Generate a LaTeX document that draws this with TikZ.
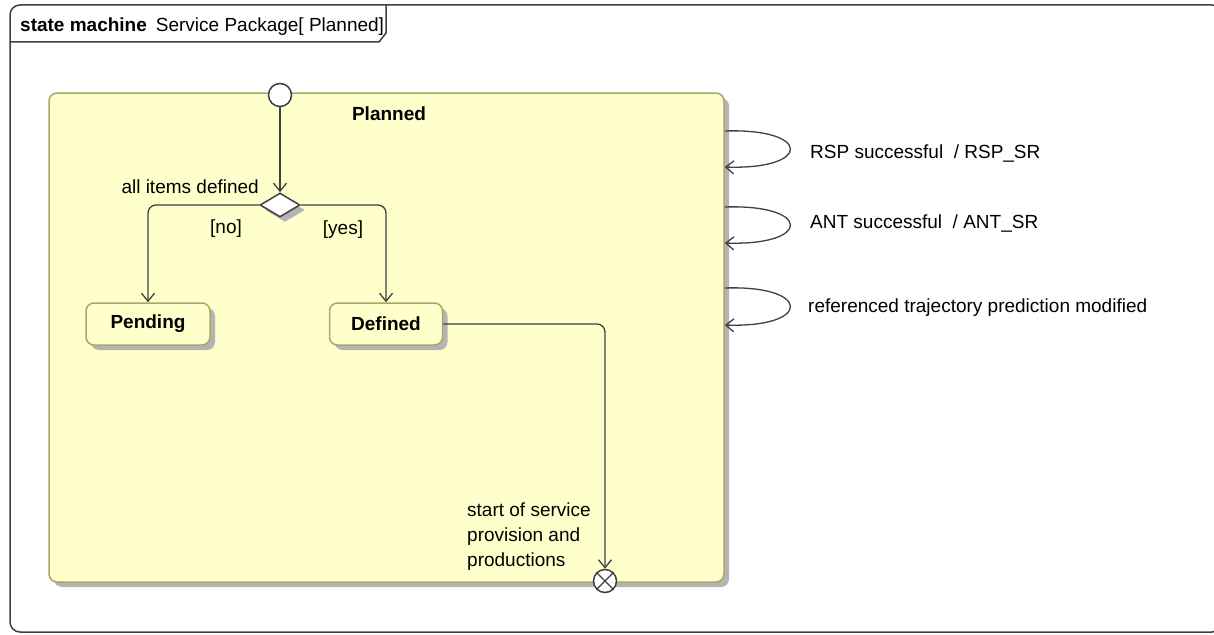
\documentclass[tikz,border=0pt]{standalone}
\usepackage{fontspec}
\setmainfont{Liberation Sans}
\usetikzlibrary{arrows.meta,shapes.geometric,shadows}
\definecolor{SMLine}{HTML}{404040}
\definecolor{SMFill}{HTML}{FFFFCC}
\definecolor{SMBorder}{HTML}{A8A868}
\definecolor{SMShadow}{HTML}{B4B4B4}
\begin{document}
\begin{tikzpicture}[x=1pt,y=-1pt,font=\fontsize{19}{25}\selectfont,
  smshadow/.style={drop shadow={shadow xshift=5pt,shadow yshift=-5pt,fill=SMShadow,opacity=1}},
  region/.style={draw=SMBorder,fill=SMFill,line width=1.5pt,rounded corners=8pt,smshadow,inner sep=0pt},
  smstate/.style={region,font=\fontsize{19}{22}\selectfont\bfseries},
  pseudo/.style={circle,draw=SMLine,fill=white,line width=1.5pt,minimum size=23pt,inner sep=0pt},
  choice/.style={diamond,draw=SMLine,fill=white,line width=1.5pt,minimum width=40pt,minimum height=24pt,inner sep=0pt,smshadow},
  trans/.style={draw=SMLine,line width=1.3pt,-{Straight Barb[length=8pt,width=13pt]}},
  lbl/.style={inner sep=0pt}]
  \useasboundingbox (0,0) rectangle (1214,634);
  % frame
  \draw[SMLine,line width=1.5pt,rounded corners=10pt] (10,5) rectangle (1222,632);
  \draw[SMLine,line width=1.5pt] (10,42) -- (379,42) -- (386,33) -- (386,5);
  \node[lbl,anchor=base west] (title) at (20,32) {\textbf{state machine}\hspace{9pt}Service Package[ Planned]};
  % composite state
  \node[region,minimum width=675pt,minimum height=489pt] (planned) at (386.5,337.5) {};
  \node[lbl,anchor=base,font=\fontsize{19}{22}\selectfont\bfseries] (plannedname) at (389,120) {Planned};
  \node[pseudo] (init) at (280,95) {};
  \node[choice] (decide) at (280,205) {};
  \node[smstate,minimum width=124pt,minimum height=42pt] (pending) at (148,324) {Pending};
  \node[smstate,minimum width=113pt,minimum height=42pt] (defined) at (386,324) {Defined};
  \node[pseudo] (exit) at (605,581) {};
  \draw[SMLine,line width=1.3pt] (exit.north west) -- (exit.south east) (exit.north east) -- (exit.south west);
  % transitions
  \draw[trans] (init) -- (decide);
  \draw[trans,rounded corners=8pt] (decide.west) -| (pending.north);
  \draw[trans,rounded corners=8pt] (decide.east) -| (defined.north);
  \draw[trans,rounded corners=8pt] (defined.east) -| (exit.north);
  \node[lbl,anchor=base east] (guardtext) at (259,193) {all items defined};
  \node[lbl,anchor=base] (nolbl) at (226,233) {[no]};
  \node[lbl,anchor=base] (yeslbl) at (343,234) {[yes]};
  \node[lbl,anchor=north west,align=left] (exitlbl) at (467,503) {start of service\\provision and\\productions};
  % self transitions
  \draw[trans] (planned.east |- 0,131) .. controls (812,128) and (812,170) .. (planned.east |- 0,167);
  \draw[trans] (planned.east |- 0,207) .. controls (812,204) and (812,246) .. (planned.east |- 0,243);
  \draw[trans] (planned.east |- 0,288) .. controls (812,285) and (812,328) .. (planned.east |- 0,325);
  \node[lbl,anchor=base west] (rsplbl) at (810,158) {RSP successful \ / RSP\_SR};
  \node[lbl,anchor=base west] (antlbl) at (810,228) {ANT successful \ / ANT\_SR};
  \node[lbl,anchor=base west] (trajlbl) at (808,312) {referenced trajectory prediction modified};
\end{tikzpicture}
\end{document}
